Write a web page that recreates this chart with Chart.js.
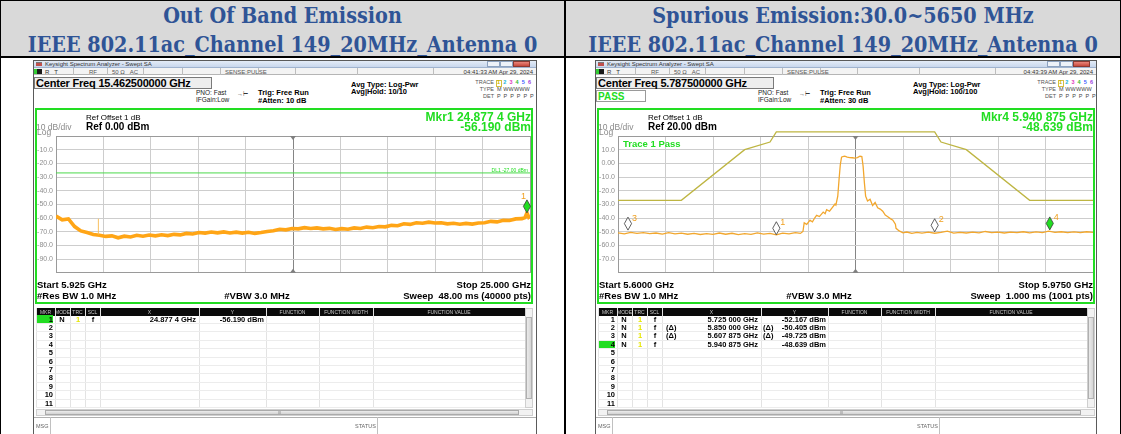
<!DOCTYPE html>
<html><head><meta charset="utf-8">
<script src="https://cdn.jsdelivr.net/npm/chart.js@4.4.1/dist/chart.umd.min.js"></script>
<style>
*{box-sizing:border-box}
html,body{margin:0;padding:0;background:#fff;}
body{width:1121px;height:434px;overflow:hidden;position:relative;font-family:"Liberation Sans",Arial,sans-serif;}
.hd{position:absolute;top:0;height:57px;background:#d9d9d9;}
.ht{position:absolute;left:0;right:0;text-align:center;font-family:"DejaVu Serif Condensed","DejaVu Serif",serif;font-stretch:condensed;font-weight:bold;font-size:21px;line-height:24px;color:#2f5496;white-space:nowrap;}
.ln{position:absolute;background:#000;}
.sa{position:absolute;top:60px;height:380px;background:#fff;overflow:hidden;}
.t{position:absolute;white-space:nowrap;line-height:1;color:#000;}
.bx{position:absolute;}
canvas{position:absolute;}
</style></head><body>
<div id="root"></div>
<script>
// ---------------- DATA ----------------
// Left: Out of band emission, 5.925 - 25.000 GHz
const leftTraceFreq = [5.925,6.175,6.425,6.675,6.925,7.175,7.425,7.675,7.925,8.175,8.425,8.675,8.925,9.175,9.425,9.675,9.925,10.175,10.425,10.675,10.925,11.175,11.425,11.675,11.925,12.175,12.425,12.675,12.925,13.175,13.425,13.675,13.925,14.175,14.425,14.675,14.925,15.175,15.425,15.675,15.925,16.175,16.425,16.675,16.925,17.175,17.425,17.675,17.925,18.175,18.425,18.675,18.925,19.175,19.425,19.675,19.925,20.175,20.425,20.675,20.925,21.175,21.425,21.675,21.925,22.175,22.425,22.675,22.925,23.175,23.425,23.675,23.925,24.175,24.425,24.675,24.80,24.877,24.95,25.0];
const leftTraceDbm = [-58.5,-61.3,-60.6,-66.2,-69.4,-70.6,-72.0,-72.6,-73.4,-73.0,-74.4,-73.2,-73.8,-72.6,-73.3,-72.4,-73.0,-72.2,-72.8,-71.9,-72.3,-71.2,-71.6,-70.6,-71.0,-70.2,-70.8,-70.1,-70.9,-70.3,-71.0,-70.4,-71.2,-70.6,-69.8,-69.2,-68.2,-68.6,-67.6,-67.9,-67.0,-67.6,-67.2,-67.9,-67.5,-68.3,-67.7,-68.2,-67.2,-67.6,-66.6,-67.1,-66.2,-66.4,-65.3,-65.6,-64.2,-64.6,-63.4,-63.8,-63.0,-63.6,-63.4,-64.2,-63.8,-64.5,-63.9,-64.4,-63.6,-63.4,-62.4,-62.8,-61.6,-61.8,-60.6,-60.4,-59.6,-56.2,-59.4,-58.8];
const leftSpikeFreq = [7.63,7.63];
const leftSpikeDbm = [-72.0,-60.5];
const leftDisplayLineFreq = [5.925,25.0];
const leftDisplayLineDbm = [-27,-27];
const leftMarkerFreq = [24.8774];
const leftMarkerDbm = [-56.19];
const leftMarkerLabels = ['1'];
const leftXGrid = [5.925,7.8325,9.74,11.6475,13.555,15.4625,17.37,19.2775,21.185,23.0925,25.0];
const leftYTicks = [-100,-90,-80,-70,-60,-50,-40,-30,-20,-10,0];
const leftYTickLabels = ['','-90.0','-80.0','-70.0','-60.0','-50.0','-40.0','-30.0','-20.0','-10.0',''];

// Right: Spurious emission, 5.600 - 5.975 GHz
const rightTraceFreq = [5.600,5.605,5.610,5.615,5.620,5.625,5.630,5.635,5.640,5.645,5.650,5.655,5.660,5.665,5.670,5.675,5.680,5.685,5.690,5.695,5.700,5.705,5.710,5.715,5.720,5.725,5.730,5.735,5.740,5.744,5.746,5.747,5.749,5.7516,5.7535,5.7555,5.7568,5.759,5.762,5.7635,5.7647,5.767,5.769,5.7713,5.772,5.7735,5.7745,5.7755,5.7765,5.7775,5.779,5.781,5.783,5.785,5.787,5.789,5.791,5.7925,5.7935,5.7945,5.7955,5.797,5.799,5.801,5.803,5.805,5.807,5.809,5.811,5.813,5.815,5.817,5.819,5.8195,5.822,5.825,5.828,5.832,5.836,5.840,5.845,5.850,5.855,5.860,5.865,5.870,5.875,5.880,5.885,5.890,5.895,5.900,5.905,5.910,5.915,5.920,5.925,5.930,5.935,5.940,5.945,5.950,5.955,5.960,5.965,5.970,5.975];
const rightTraceDbm = [-50.8,-51.6,-50.4,-51.2,-50.6,-51.4,-50.9,-51.7,-50.7,-51.5,-51.0,-51.8,-51.2,-52.0,-51.3,-51.9,-50.9,-51.8,-51.1,-52.1,-51.4,-51.9,-50.8,-51.7,-51.2,-52.2,-51.0,-51.6,-50.6,-51.2,-49.8,-43.5,-44.6,-41.5,-42.8,-39.6,-38.0,-38.9,-35.6,-36.8,-33.8,-35.0,-32.6,-29.8,-30.5,-24.0,-12.0,-1.0,4.5,5.0,5.3,4.6,4.2,4.1,3.8,4.2,5.2,5.0,-2.0,-14.0,-24.0,-27.5,-26.2,-30.8,-28.6,-32.5,-33.4,-35.0,-37.8,-39.0,-40.4,-41.5,-44.5,-47.5,-49.4,-50.8,-50.2,-51.2,-50.4,-51.0,-50.3,-51.1,-50.5,-49.6,-51.0,-50.4,-50.9,-50.2,-50.8,-49.8,-50.6,-50.2,-50.9,-50.3,-50.7,-50.0,-50.8,-50.1,-50.6,-49.6,-50.4,-50.0,-50.7,-50.1,-50.6,-50.0,-50.5];
const rightLimitFreq = [5.600,5.650,5.700,5.720,5.725,5.850,5.855,5.875,5.925,5.975];
const rightLimitDbm = [-27,-27,10,15.6,23,23,15.6,10,-27,-27];
const rightMarkerFreq = [5.725,5.850,5.607875,5.940875];
const rightMarkerDbm = [-52.167,-50.0,-48.8,-48.639];
const rightMarkerLabels = ['1','2','3','4'];
const rightXGrid = [5.6,5.6375,5.675,5.7125,5.75,5.7875,5.825,5.8625,5.9,5.9375,5.975];
const rightYTicks = [-80,-70,-60,-50,-40,-30,-20,-10,0,10,20];
const rightYTickLabels = ['','-70.0','-60.0','-50.0','-40.0','-30.0','-20.0','-10.0','0.00','10.0',''];

// ---------------- LAYOUT HELPERS ----------------
function T(x,cy,txt,size,opt){
  opt=opt||{};
  const al=opt.align||'l';
  const tr=al==='r'?'translateX(-100%)':al==='c'?'translateX(-50%)':'none';
  return `<div class="t" style="left:${x}px;top:${(cy-size*0.5).toFixed(1)}px;font-size:${size}px;transform:${tr};${opt.s||''}">${txt}</div>`;
}
function B(l,t,w,h,s){return `<div class="bx" style="left:${l}px;top:${t}px;width:${w}px;height:${h}px;${s||''}"></div>`;}
const GREEN='#22dd22';

function panelHTML(p){
  let h='';
  h+=B(0,0,p.w,8,'background:linear-gradient(#e8eff9,#c8d7ec);border-bottom:1px solid #9fb3cf');
  h+=B(3,2,6,4,'background:#c0504d;border-top:1px solid #777');
  h+=T(12,4.2,'Keysight Spectrum Analyzer - Swept SA',6,{s:'color:#333'});
  h+=B(p.w-50,1,13,6,'background:#edf2f9;border:1px solid #8da2c0');
  h+=B(p.w-37,1,13,6,'background:#edf2f9;border:1px solid #8da2c0');
  h+=B(p.w-24,1,17,6,'background:linear-gradient(#e8867b,#c8493d);border:1px solid #8a3a33');
  h+=B(0,8,p.w,7,'background:#f3f3f3;border-bottom:1px solid #b5b5b5');
  h+=B(1,9,8,5,'background:#1a1a1a;border-left:3px solid #3c3');
  [40,74,110,149,187,225,262,324,400].forEach(x=>{h+=B(x,8,1,7,'background:#bdbdbd');});
  h+=T(12,11.6,'R&nbsp;&nbsp;&nbsp;T',6,{s:'color:#333'});
  h+=T(56,11.6,'RF',6,{s:'color:#555'});
  h+=T(79,11.6,'50 Ω&nbsp;&nbsp;&nbsp;AC',6,{s:'color:#555'});
  h+=T(192,11.6,'SENSE:PULSE',6,{s:'color:#555'});
  h+=T(p.w-4,11.6,p.time,6,{align:'r',s:'color:#333'});
  h+=B(1,17,178,12,'background:#eeeeee;border:1px solid #7a7a7a');
  h+=T(3,23.2,p.cf,11,{s:'font-weight:bold;letter-spacing:-0.2px'});
  if(p.pass){h+=B(1,30,50,12,'background:#fff;border:1px solid #9a9a9a');h+=T(3,36.5,'PASS',10,{s:'font-weight:bold;color:'+GREEN});}
  h+=T(163,33.5,'PNO: Fast',6.5,{s:'color:#222'});
  h+=T(163,40.5,'IFGain:Low',6.5,{s:'color:#222'});
  h+=T(204,33.5,'→⊢',6,{s:'color:#333'});
  h+=T(225,32.5,'Trig: Free Run',7.5,{s:'font-weight:bold'});
  h+=T(225,40.5,p.atten,7.5,{s:'font-weight:bold'});
  h+=T(318,24.5,'Avg Type: Log-Pwr',7.5,{s:'font-weight:bold'});
  h+=T(318,31.5,p.avg,7.5,{s:'font-weight:bold'});
  h+=T(461,23,'TRACE',5.5,{align:'r',s:'color:#555'});
  h+=T(461,30,'TYPE',5.5,{align:'r',s:'color:#555'});
  h+=T(461,37,'DET',5.5,{align:'r',s:'color:#555'});
  h+=B(463,19.5,6,7,'border:1px solid #d4c040');
  const tc=['#c8b400','#19b3d9','#e040c0','#33bb33','#3f5fff','#9b42e0'];
  tc.forEach((c,i)=>{h+=T(464+i*6.2,23,String(i+1),5.5,{s:'color:'+c+';font-weight:bold'});});
  h+=T(464,30,'M&nbsp;WWWWW',5.5,{s:'color:#444;letter-spacing:0.1px'});
  h+=T(464,37,'P&nbsp;P&nbsp;P&nbsp;P&nbsp;P&nbsp;P',5.5,{s:'color:#444;letter-spacing:0.7px'});
  h+=B(2,48,498,196,'border:2px solid '+GREEN);
  h+=T(53,58,'Ref Offset 1 dB',8);
  h+=T(3,67.5,'10 dB/div',8.5,{s:'color:#8a8a8a'});
  h+=T(53,66.5,p.ref,10,{s:'font-weight:bold'});
  h+=T(4,72.5,'Log',8.5,{s:'color:#8a8a8a'});
  h+=T(498,56.5,p.mkr1,12,{align:'r',s:'font-weight:bold;color:'+GREEN});
  h+=T(498,67.2,p.mkr2,12,{align:'r',s:'font-weight:bold;color:'+GREEN});
  if(p.dl) h+=T(495,110,p.dl,5,{align:'r',s:'color:'+GREEN});
  if(p.pass) h+=T(28,83.5,'Trace 1 Pass',9.5,{s:'font-weight:bold;color:'+GREEN});
  h+=T(4,225,p.start,9.5,{s:'font-weight:bold'});
  h+=T(498,225,p.stop,9.5,{align:'r',s:'font-weight:bold'});
  h+=T(4,235.6,'#Res BW 1.0 MHz',9.5,{s:'font-weight:bold'});
  h+=T(224,235.6,'#VBW 3.0 MHz',9.5,{align:'c',s:'font-weight:bold'});
  h+=T(498,235.6,p.sweep,9.5,{align:'r',s:'font-weight:bold'});
  const cols=[[3,22,'MKR'],[22,37,'MODE'],[37,52,'TRC'],[52,67,'SCL'],[67,166,'X'],[166,233,'Y'],[233,286,'FUNCTION'],[286,340,'FUNCTION WIDTH'],[340,492,'FUNCTION VALUE']];
  h+=B(3,248,489,8,'background:#0a0a0a');
  cols.forEach(c=>{h+=B(c[1],248,1,100,'background:#e3e3e3');h+=T((c[0]+c[1])/2,252.2,c[2],5,{align:'c',s:'color:#c8c8c8'});});
  h+=B(3,248,1,100,'background:#e3e3e3');
  for(let i=1;i<=11;i++){
    const cy=259+(i-1)*8.4;
    h+=B(3,cy+4,489,1,'background:#ececec');
    h+=T(20,cy+0.3,String(i),7.5,{align:'r',s:'font-weight:bold'});
  }
  p.rows.forEach(r=>{
    const cy=259+(r.n-1)*8.4;
    if(r.hl){h+=B(4,cy-3.6,16,7.6,'background:'+GREEN);h+=T(20,cy+0.3,String(r.n),7.5,{align:'r',s:'font-weight:bold'});}
    h+=T(29,cy+0.3,'N',7.5,{align:'c',s:'font-weight:bold'});
    h+=T(45,cy+0.3,'1',7.5,{align:'c',s:'font-weight:bold;color:#e6e600'});
    h+=T(60,cy+0.3,'f',7.5,{align:'c',s:'font-weight:bold'});
    if(r.d){h+=T(71,cy+0.3,'(Δ)',7.5,{s:'font-weight:bold'});h+=T(168,cy+0.3,'(Δ)',7.5,{s:'font-weight:bold'});}
    h+=T(163,cy+0.3,r.x,7.5,{align:'r',s:'font-weight:bold'});
    h+=T(231,cy+0.3,r.y,7.5,{align:'r',s:'font-weight:bold'});
  });
  h+=B(492,248,8,100,'background:#f2f2f2;border:1px solid #cfcfcf');
  h+=B(493,257,6,82,'background:linear-gradient(90deg,#eaeaea,#d5d5d5);border:1px solid #b0b0b0');
  h+=B(3,349,497,7,'background:#f2f2f2;border:1px solid #cfcfcf');
  h+=B(12,350,474,5,'background:linear-gradient(#ececec,#d2d2d2);border:1px solid #aaa');
  h+=T(245,352.5,'III',4,{s:'color:#888'});
  h+=B(0,357,p.w,1,'background:#b0b0b0');
  h+=B(17,357,1,30,'background:#c0c0c0');
  h+=B(344,357,1,30,'background:#c0c0c0');
  h+=T(3,367,'MSG',5.5,{s:'color:#666'});
  h+=T(322,367,'STATUS',5.5,{s:'color:#666'});
  h+=B(0,0,p.w,380,'border:1px solid #5a5a5a;border-bottom:none');
  return h;
}

const panels=[
  {x0:33,w:504,time:'04:41:33 AM Apr 29, 2024',cf:'Center Freq 15.462500000 GHz',pass:false,atten:'#Atten: 10 dB',avg:'Avg|Hold: 10/10',
   ref:'Ref 0.00 dBm',mkr1:'Mkr1 24.877 4 GHz',mkr2:'-56.190 dBm',dl:'DL1 -27.00 dBm',start:'Start 5.925 GHz',stop:'Stop 25.000 GHz',
   sweep:'Sweep&nbsp;&nbsp;48.00 ms (40000 pts)',rows:[{n:1,hl:true,x:'24.877 4 GHz',y:'-56.190 dBm'}]},
  {x0:595,w:502,time:'04:43:39 AM Apr 29, 2024',cf:'Center Freq 5.787500000 GHz',pass:true,atten:'#Atten: 30 dB',avg:'Avg|Hold: 100/100',
   ref:'Ref 20.00 dBm',mkr1:'Mkr4 5.940 875 GHz',mkr2:'-48.639 dBm',dl:null,start:'Start 5.6000 GHz',stop:'Stop 5.9750 GHz',
   sweep:'Sweep&nbsp;&nbsp;1.000 ms (1001 pts)',rows:[{n:1,x:'5.725 000 GHz',y:'-52.167 dBm'},{n:2,d:true,x:'5.850 000 GHz',y:'-50.405 dBm'},{n:3,d:true,x:'5.607 875 GHz',y:'-49.725 dBm'},{n:4,hl:true,x:'5.940 875 GHz',y:'-48.639 dBm'}]}
];

// ---------------- PAGE ----------------
let page='';
page+=`<div class="hd" style="left:1px;width:563px"><div class="ht" style="top:4px">Out Of Band Emission</div><div class="ht fit" style="top:33px">IEEE 802.11ac_Channel 149_20MHz_Antenna 0</div></div>`;
page+=`<div class="hd" style="left:566px;width:554px"><div class="ht" style="top:4px">Spurious Emission:30.0~5650 MHz</div><div class="ht fit" style="top:33px">IEEE 802.11ac_Channel 149_20MHz_Antenna 0</div></div>`;
page+=`<div class="ln" style="left:0;top:0;width:1121px;height:1px"></div>`;
page+=`<div class="ln" style="left:0;top:56px;width:1121px;height:2px"></div>`;
page+=`<div class="ln" style="left:0;top:0;width:1px;height:434px"></div>`;
page+=`<div class="ln" style="left:1120px;top:0;width:1px;height:434px"></div>`;
page+=`<div class="ln" style="left:564px;top:0;width:2px;height:434px"></div>`;
panels.forEach((p,i)=>{
  page+=`<div class="sa" style="left:${p.x0}px;width:${p.w}px"><canvas id="c${i}" width="${i===0?497:498}" height="154" style="left:3px;top:66px"></canvas>${panelHTML(p)}</div>`;
});
document.getElementById('root').innerHTML=page;

// fit header font so the long title line is ~510px wide
(function(){
  const el=document.querySelector('.ht.fit');
  const sp=document.createElement('span');
  sp.textContent=el.textContent;
  sp.style.cssText='font:inherit;font-stretch:inherit;';
  el.textContent='';el.appendChild(sp);
  const w=sp.getBoundingClientRect().width;
  el.textContent=sp.textContent;
  const fs=Math.max(16,Math.min(26,21*510/w));
  document.querySelectorAll('.ht').forEach(e=>{e.style.fontSize=fs.toFixed(2)+'px';});
})();

// ---------------- CHARTS ----------------
const saDecor={
  id:'saDecor',
  afterDatasetsDraw(chart,args,o){
    const ctx=chart.ctx,a=chart.chartArea,x=chart.scales.x,y=chart.scales.y;
    const cx=x.getPixelForValue(o.center);
    ctx.save();
    ctx.fillStyle='#7f7f7f';
    ctx.beginPath();ctx.moveTo(cx-3,a.top);ctx.lineTo(cx+3,a.top);ctx.lineTo(cx,a.top+4);ctx.closePath();ctx.fill();
    ctx.beginPath();ctx.moveTo(cx-3,a.bottom);ctx.lineTo(cx+3,a.bottom);ctx.lineTo(cx,a.bottom-4);ctx.closePath();ctx.fill();
    o.freqs.forEach((f,i)=>{
      const px=x.getPixelForValue(f),py=y.getPixelForValue(o.dbm[i]);
      ctx.beginPath();ctx.moveTo(px,py-13);ctx.lineTo(px+3.6,py-6.5);ctx.lineTo(px,py);ctx.lineTo(px-3.6,py-6.5);ctx.closePath();
      ctx.fillStyle=(i===o.active)?'#22dd22':'#ffffff';ctx.fill();
      ctx.strokeStyle='#3a3a3a';ctx.lineWidth=0.8;ctx.stroke();
      ctx.fillStyle='#f0a020';ctx.font='9px "Liberation Sans"';ctx.textBaseline='middle';
      if(px+10>a.right){ctx.textAlign='right';ctx.fillText(o.labels[i],px-1,py-16);}
      else{ctx.textAlign='left';ctx.fillText(o.labels[i],px+4,py-12);}
    });
    ctx.restore();
  }
};

function pts(fs,vs){return fs.map((f,i)=>({x:f,y:vs[i]}));}

function makeChart(id,c){
  return new Chart(document.getElementById(id),{
    type:'line',
    data:{datasets:c.datasets},
    options:{
      responsive:false,animation:false,devicePixelRatio:1,
      layout:{padding:{top:10,right:3,bottom:3,left:0}},
      elements:{point:{radius:0},line:{tension:0}},
      plugins:{legend:{display:false},tooltip:{enabled:false},saDecor:c.decor},
      scales:{
        x:{type:'linear',min:c.xMin,max:c.xMax,
           afterBuildTicks:s=>{s.ticks=c.xGrid.map(v=>({value:v}));},
           afterFit:s=>{s.height=0;},
           ticks:{display:false},
           grid:{drawTicks:false,lineWidth:1,color:g=>(g.index===5?'#858585':(g.index===0||g.index===10?'#9a9a9a':'#cdcdcd'))},
           border:{display:true,color:'#9a9a9a'}},
        y:{type:'linear',min:c.yMin,max:c.yMax,
           afterBuildTicks:s=>{s.ticks=c.yTicks.map(v=>({value:v}));},
           afterFit:s=>{s.width=20;},
           ticks:{autoSkip:false,padding:3,color:'#8f8f8f',font:{family:'Liberation Sans',size:7},callback:(v,i)=>c.yLabels[i]},
           grid:{drawTicks:false,lineWidth:1,color:g=>(g.index===0||g.index===10?'#9a9a9a':'#cdcdcd')},
           border:{display:true,color:'#9a9a9a'}}
      }
    },
    plugins:[saDecor]
  });
}

makeChart('c0',{
  xMin:leftXGrid[0],xMax:leftXGrid[10],yMin:-100,yMax:0,xGrid:leftXGrid,yTicks:leftYTicks,yLabels:leftYTickLabels,
  decor:{center:leftXGrid[5],freqs:leftMarkerFreq,dbm:leftMarkerDbm,labels:leftMarkerLabels,active:0},
  datasets:[
    {data:pts(leftDisplayLineFreq,leftDisplayLineDbm),borderColor:'#4cd94c',borderWidth:1},
    {data:pts(leftSpikeFreq,leftSpikeDbm),borderColor:'#f8c060',borderWidth:1},
    {data:pts(leftTraceFreq,leftTraceDbm),borderColor:'#ffa516',borderWidth:3.6}
  ]
});
makeChart('c1',{
  xMin:rightXGrid[0],xMax:rightXGrid[10],yMin:-80,yMax:20,xGrid:rightXGrid,yTicks:rightYTicks,yLabels:rightYTickLabels,
  decor:{center:rightXGrid[5],freqs:rightMarkerFreq,dbm:rightMarkerDbm,labels:rightMarkerLabels,active:3},
  datasets:[
    {data:pts(rightLimitFreq,rightLimitDbm),borderColor:'#beb542',borderWidth:1.3,clip:false},
    {data:pts(rightTraceFreq,rightTraceDbm),borderColor:'#f2a72e',borderWidth:1.3}
  ]
});
</script>
</body></html>
